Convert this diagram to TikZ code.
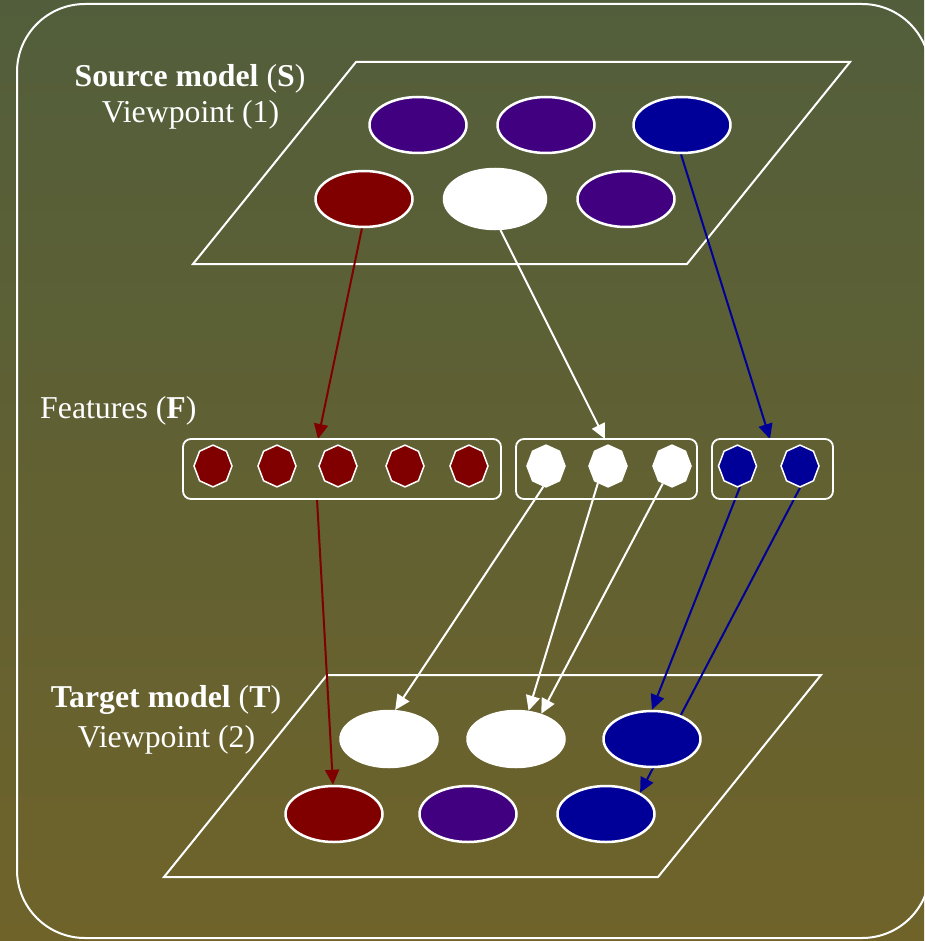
\documentclass[tikz,border=0pt]{standalone}
\usepackage{fontspec}
\setmainfont{Liberation Serif}
\usetikzlibrary{shapes.geometric,arrows.meta}

\definecolor{bgtop}{RGB}{82,94,59}
\definecolor{bgbot}{RGB}{111,99,42}
\definecolor{mred}{RGB}{128,0,0}
\definecolor{mpurple}{RGB}{64,0,128}
\definecolor{mblue}{RGB}{0,0,153}

\pgfdeclarelayer{bg}
\pgfdeclarelayer{edges}
\pgfsetlayers{bg,edges,main}

\begin{document}
\begin{tikzpicture}[x=1pt,y=-1pt,
  elem/.style={ellipse, draw=white, line width=2.5pt, minimum width=97pt,
    minimum height=56pt, inner sep=0pt},
  feat/.style={regular polygon, regular polygon sides=8, shape border rotate=22.5,
    draw=white, line width=1.5pt, minimum size=38pt, inner sep=0pt,
    yscale=1.1, transform shape},
  group/.style={draw=white, line width=1.8pt, rounded corners=8pt,
    minimum height=60pt, inner sep=0pt},
  plane/.style={draw=white, line width=2pt},
  link/.style={line width=2pt, -{Triangle[length=15pt,width=14pt]}},
  txt/.style={text=white, font=\fontsize{31.8}{36}\selectfont, inner sep=0pt, anchor=base},
]
\useasboundingbox (0,0) rectangle (924,941);

\begin{pgfonlayer}{bg}
  % backdrop and frame
  \shade[top color=bgtop, bottom color=bgbot] (0,0) rectangle (924,941);
  \draw[white, line width=2pt, rounded corners=68pt] (17,4) rectangle (930,938);
  % model planes
  \draw[plane] (356,62) -- (850,62) -- (687,264) -- (193,264) -- cycle;
  \draw[plane] (327,675) -- (821,675) -- (658,877) -- (164,877) -- cycle;
\end{pgfonlayer}

% labels
\node[txt] (srcname) at (190,87) {\textbf{Source model} (\textbf{S})};
\node[txt] (srcview) at (190.5,123) {Viewpoint (1)};
\node[txt] (tgtname) at (166,707) {\textbf{Target model} (\textbf{T})};
\node[txt] (tgtview) at (166.5,747) {Viewpoint (2)};
\node[txt, anchor=base west] (featname) at (40,418) {Features (\textbf{F})};

% source model elements
\node[elem, fill=mpurple] (sP1) at (418,125) {};
\node[elem, fill=mpurple] (sP2) at (546,125) {};
\node[elem, fill=mblue]   (sB)  at (682,125) {};
\node[elem, fill=mred]    (sR)  at (364,199) {};
\node[elem, fill=white, minimum width=102pt, minimum height=60pt] (sW) at (495,199) {};
\node[elem, fill=mpurple] (sP3) at (626,199) {};

% feature groups
\node[group, minimum width=318pt] (fr) at (342,469) {};
\node[group, minimum width=181pt] (fw) at (606.5,469) {};
\node[group, minimum width=121pt] (fb) at (772.5,469) {};

\node[feat, fill=mred] (fr1) at (213,466) {};
\node[feat, fill=mred] (fr2) at (277,466) {};
\node[feat, fill=mred] (fr3) at (338,466) {};
\node[feat, fill=mred] (fr4) at (405,466) {};
\node[feat, fill=mred] (fr5) at (469,466) {};
\node[feat, fill=white] (fw1) at (546,466) {};
\node[feat, fill=white] (fw2) at (608,466) {};
\node[feat, fill=white] (fw3) at (672,466) {};
\node[feat, fill=mblue] (fb1) at (737.5,466) {};
\node[feat, fill=mblue] (fb2) at (800,466) {};

\coordinate (frIn)  at (318,439);
\coordinate (frOut) at (317,499);
\coordinate (fwIn)  at (605,439);
\coordinate (fbIn)  at (770,439);

% target model elements
\node[elem, fill=white] (tW1) at (389,739) {};
\node[elem, fill=white] (tW2) at (516,739) {};
\node[elem, fill=mblue] (tB1) at (652,739) {};
\node[elem, fill=mred]    (tR)  at (334,814) {};
\node[elem, fill=mpurple] (tP)  at (468,814) {};
\node[elem, fill=mblue]   (tB2) at (606,814) {};

% mappings
\begin{pgfonlayer}{edges}
  \draw[link, mred]  (sR.-94) -- (frIn);
  \draw[link, white] (sW.-80) -- (fwIn);
  \draw[link, mblue] (sB.-92) -- (fbIn);

  \draw[link, mred]  (frOut) -- (tR.92);
  \draw[link, white] (fw1.-98) -- (tW1.78);
  \draw[link, white] (fw2.-123) -- (tW2.66);
  \draw[link, white] (fw3.-120) -- (tW2.45);
  \draw[link, mblue] (fb1.-82) -- (tB1.north);
  \draw[link, mblue] (fb2.south) -- (tB2.32);
\end{pgfonlayer}
\end{tikzpicture}
\end{document}
